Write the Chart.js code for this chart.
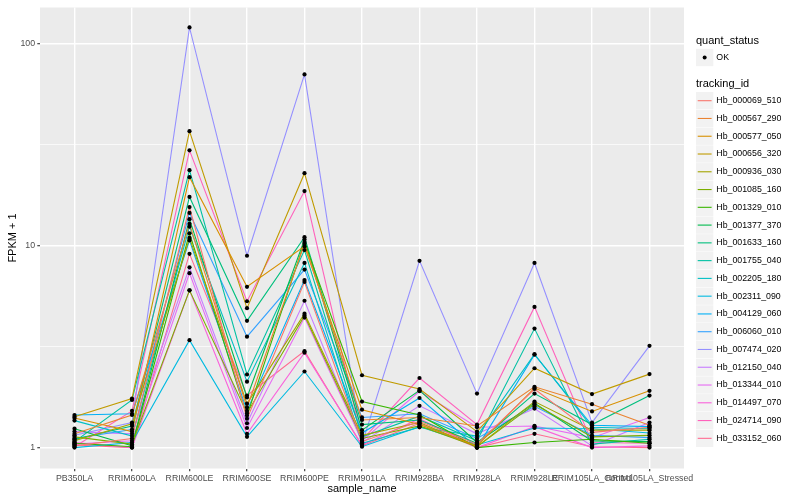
<!DOCTYPE html>
<html>
<head>
<meta charset="utf-8">
<script src="https://cdn.jsdelivr.net/npm/chart.js@4.4.1/dist/chart.umd.min.js"></script>
<style>
  html, body { margin: 0; padding: 0; background: #ffffff; }
  #wrap { width: 800px; height: 500px; }
</style>
</head>
<body>
<div id="wrap"><canvas id="chart" width="800" height="500"></canvas></div>
<script>
const samples = [
  "PB350LA", "RRIM600LA", "RRIM600LE", "RRIM600SE", "RRIM600PE", "RRIM901LA",
  "RRIM928BA", "RRIM928LA", "RRIM928LE", "RRIM105LA_Control", "RRIM105LA_Stressed",
];

const trackingIds = [
  "Hb_000069_510", "Hb_000567_290", "Hb_000577_050", "Hb_000656_320", "Hb_000936_030",
  "Hb_001085_160", "Hb_001329_010", "Hb_001377_370", "Hb_001633_160", "Hb_001755_040",
  "Hb_002205_180", "Hb_002311_090", "Hb_004129_060", "Hb_006060_010", "Hb_007474_020",
  "Hb_012150_040", "Hb_013344_010", "Hb_014497_070", "Hb_024714_090", "Hb_033152_060",
];

// FPKM + 1, one value per sample
const hb_000069_510 = [1.02, 1.11, 15.5, 1.39, 6.6, 1.07, 1.35, 1.04, 1.95, 1.19, 1.26];
const hb_000567_290 = [1.17, 1.45, 12.8, 1.58, 10.2, 1.37, 1.41, 1.28, 2.0, 1.64, 1.29];
const hb_000577_050 = [1.40, 1.20, 21.8, 6.25, 9.9, 1.54, 1.30, 1.02, 1.97, 1.51, 1.91];
const hb_000656_320 = [1.42, 1.75, 36.8, 4.9, 22.8, 2.28, 1.95, 1.20, 2.47, 1.84, 2.31];
const hb_000936_030 = [1.08, 1.31, 10.9, 1.65, 4.6, 1.15, 1.33, 1.01, 1.69, 1.22, 1.22];
const hb_001085_160 = [1.13, 1.04, 6.0, 1.48, 4.5, 1.11, 1.28, 1.01, 1.64, 1.13, 1.15];
const hb_001329_010 = [1.05, 1.01, 11.5, 1.44, 10.4, 1.69, 1.45, 1.0, 1.06, 1.10, 1.05];
const hb_001377_370 = [1.24, 1.02, 13.5, 1.77, 10.7, 1.22, 1.92, 1.06, 1.66, 1.08, 1.07];
const hb_001633_160 = [1.10, 1.28, 17.4, 4.24, 11.0, 1.30, 1.37, 1.05, 1.85, 1.30, 1.81];
const hb_001755_040 = [1.07, 1.72, 23.6, 2.3, 9.5, 1.13, 1.43, 1.08, 3.88, 1.04, 1.10];
const hb_002205_180 = [1.36, 1.14, 12.4, 2.12, 8.2, 1.05, 1.26, 1.14, 2.9, 1.26, 1.24];
const hb_002311_090 = [1.0, 1.06, 3.4, 1.13, 2.38, 1.01, 1.27, 1.03, 1.25, 1.24, 1.18];
const hb_004129_060 = [1.45, 1.47, 10.6, 1.52, 6.75, 1.18, 1.76, 1.0, 2.88, 1.29, 1.27];
const hb_006060_010 = [1.11, 1.23, 14.5, 3.54, 7.6, 1.41, 1.47, 1.11, 1.60, 1.15, 1.12];
const hb_007474_020 = [1.15, 1.33, 120, 8.9, 70.3, 1.04, 8.4, 1.85, 8.2, 1.33, 3.19];
const hb_012150_040 = [1.20, 1.17, 7.8, 1.32, 5.33, 1.06, 1.61, 1.17, 1.56, 1.02, 1.33];
const hb_013344_010 = [1.04, 1.08, 7.3, 1.25, 4.4, 1.08, 1.90, 1.26, 1.28, 1.12, 1.41];
const hb_014497_070 = [1.06, 1.0, 6.0, 1.17, 2.95, 1.03, 1.39, 1.0, 1.27, 1.0, 1.02];
const hb_024714_090 = [1.01, 1.52, 29.6, 5.3, 18.6, 1.09, 2.21, 1.30, 4.97, 1.06, 1.05];
const hb_033152_060 = [1.03, 1.0, 9.1, 1.81, 3.0, 1.02, 1.32, 1.0, 1.17, 1.01, 1.0];

const seriesValues = [
  hb_000069_510, hb_000567_290, hb_000577_050, hb_000656_320, hb_000936_030,
  hb_001085_160, hb_001329_010, hb_001377_370, hb_001633_160, hb_001755_040,
  hb_002205_180, hb_002311_090, hb_004129_060, hb_006060_010, hb_007474_020,
  hb_012150_040, hb_013344_010, hb_014497_070, hb_024714_090, hb_033152_060,
];

const yMajorTicks = [1, 10, 100];
const yMinorTicks = [3.162, 31.62];

// ggplot2 default hue palette, 20 levels
const hueColours = [
  "#F8766D", "#EA8331", "#D89000", "#C09B00", "#A3A500", "#7CAE00", "#39B600",
  "#00BB4E", "#00BF7D", "#00C1A3", "#00BFC4", "#00BAE0", "#00B0F6", "#35A2FF",
  "#9590FF", "#C77CFF", "#E76BF3", "#FA62DB", "#FF62BC", "#FF6C91",
];

const FONT = '"Liberation Sans", Arial, Helvetica, sans-serif';

function toPoints(values) {
  return values.map((v, j) => ({ x: j, y: v }));
}

const lineSets = seriesValues.map((values, i) => ({
  label: trackingIds[i],
  data: toPoints(values),
  borderColor: hueColours[i],
  backgroundColor: hueColours[i],
  borderWidth: 1.1,
  pointRadius: 0,
  tension: 0,
  fill: false,
  order: 2,
}));

const pointSets = seriesValues.map((values, i) => ({
  label: trackingIds[i] + " OK",
  data: toPoints(values),
  showLine: false,
  pointRadius: 2.1,
  pointBackgroundColor: "#000000",
  pointBorderWidth: 0,
  order: 1,
}));

const panelBg = {
  id: "panelBg",
  beforeDraw(chart) {
    const { ctx, chartArea: a } = chart;
    ctx.save();
    ctx.fillStyle = "#EBEBEB";
    ctx.fillRect(a.left, a.top, a.right - a.left, a.bottom - a.top);
    ctx.restore();
  },
};

const ggLegend = {
  id: "ggLegend",
  afterDraw(chart) {
    const ctx = chart.ctx;
    const x0 = 696;
    const keyW = 17.3;
    const step = 17.77;
    ctx.save();
    ctx.textBaseline = "middle";
    ctx.textAlign = "left";

    ctx.fillStyle = "#000000";
    ctx.font = `11px ${FONT}`;
    ctx.fillText("quant_status", x0, 41);
    ctx.fillStyle = "#F2F2F2";
    ctx.fillRect(x0, 57.5 - keyW / 2, keyW, keyW);
    ctx.fillStyle = "#000000";
    ctx.beginPath();
    ctx.arc(x0 + keyW / 2, 57.5, 2, 0, Math.PI * 2);
    ctx.fill();
    ctx.font = `8.8px ${FONT}`;
    ctx.fillText("OK", x0 + keyW + 3, 57.5);

    ctx.font = `11px ${FONT}`;
    ctx.fillText("tracking_id", x0, 84);

    ctx.font = `8.8px ${FONT}`;
    lineSets.forEach((ds, i) => {
      const cy = 100.7 + step * i;
      ctx.fillStyle = "#F2F2F2";
      ctx.fillRect(x0, cy - keyW / 2, keyW, keyW);
      ctx.strokeStyle = ds.borderColor;
      ctx.lineWidth = 1.1;
      ctx.beginPath();
      ctx.moveTo(x0 + 1.7, cy);
      ctx.lineTo(x0 + keyW - 1.7, cy);
      ctx.stroke();
      ctx.fillStyle = "#000000";
      ctx.fillText(ds.label, x0 + keyW + 3, cy);
    });
    ctx.restore();
  },
};

const isMajor = (v) => yMajorTicks.includes(v);

new Chart(document.getElementById("chart"), {
  type: "line",
  data: { datasets: [...lineSets, ...pointSets] },
  options: {
    responsive: false,
    animation: false,
    layout: { padding: { top: 5.5, right: 116, bottom: 0, left: 0 } },
    plugins: { legend: { display: false }, tooltip: { enabled: false } },
    scales: {
      x: {
        type: "linear",
        min: -0.6,
        max: 10.6,
        afterBuildTicks: (scale) => {
          scale.ticks = samples.map((_, j) => ({ value: j }));
        },
        afterFit: (scale) => {
          scale.height = 31.5;
        },
        ticks: {
          autoSkip: false,
          maxRotation: 0,
          minRotation: 0,
          padding: 2.2,
          color: "#4D4D4D",
          font: { family: FONT, size: 8.8 },
          callback: (v) => samples[v] ?? "",
        },
        grid: {
          color: "#FFFFFF",
          lineWidth: 1.42,
          drawTicks: true,
          tickLength: 2.7,
          tickColor: "#333333",
          tickWidth: 1.1,
        },
        border: { display: false },
        title: {
          display: true,
          text: "sample_name",
          color: "#000000",
          font: { family: FONT, size: 11 },
          padding: { top: 0, bottom: 4.4 },
        },
      },
      y: {
        type: "logarithmic",
        min: 0.788,
        max: 150.7,
        afterBuildTicks: (scale) => {
          scale.ticks = [...yMajorTicks, ...yMinorTicks]
            .sort((a, b) => a - b)
            .map((v) => ({ value: v, major: isMajor(v) }));
        },
        afterFit: (scale) => {
          scale.width = 40;
        },
        ticks: {
          padding: 2.2,
          color: "#4D4D4D",
          font: { family: FONT, size: 8.8 },
          callback: (v) => (isMajor(v) ? String(v) : ""),
        },
        grid: {
          color: "#FFFFFF",
          lineWidth: (c) => (c.tick && isMajor(c.tick.value) ? 1.42 : 0.71),
          drawTicks: true,
          tickLength: 2.7,
          tickColor: (c) => (c.tick && isMajor(c.tick.value) ? "#333333" : "rgba(0,0,0,0)"),
          tickWidth: 1.1,
        },
        border: { display: false },
        title: {
          display: true,
          text: "FPKM + 1",
          color: "#000000",
          font: { family: FONT, size: 11 },
          padding: { top: 6.5, bottom: 0 },
        },
      },
    },
  },
  plugins: [panelBg, ggLegend],
});
</script>
</body>
</html>
